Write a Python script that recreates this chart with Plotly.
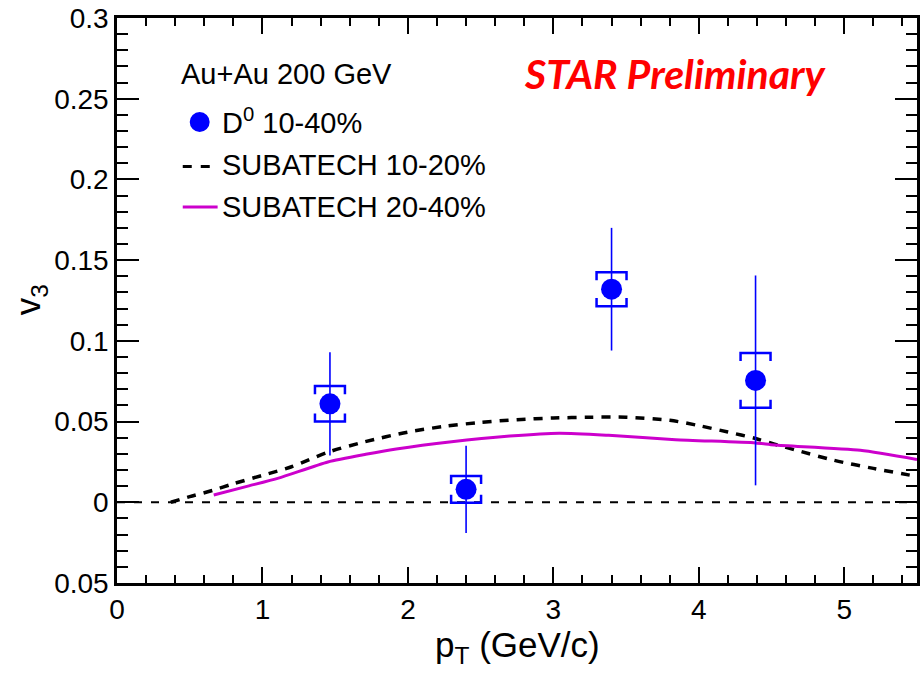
import plotly.graph_objects as go

# D0 v3 measurement, 10-40% centrality
pt = [1.464, 2.40, 3.40, 4.39]
v3 = [0.061, 0.008, 0.132, 0.0755]
stat_err = [0.032, 0.027, 0.038, 0.065]
sys_err = [0.011, 0.0083, 0.0105, 0.017]

# SUBATECH model, 10-20%
sub1020_pt = [0.37, 0.5, 0.66, 0.8, 1.0, 1.2, 1.45, 1.7, 2.0, 2.25, 2.5, 2.75,
              3.0, 3.25, 3.5, 3.8, 4.0, 4.2, 4.39, 4.52, 4.66, 4.93, 5.2, 5.5]
sub1020_v3 = [0.0, 0.0035, 0.0074, 0.0115, 0.0167, 0.022, 0.031, 0.0374, 0.0435,
              0.047, 0.0495, 0.0512, 0.0522, 0.0527, 0.0527, 0.0508, 0.0475, 0.0435,
              0.0395, 0.036, 0.0325, 0.026, 0.021, 0.016]

# SUBATECH model, 20-40%
sub2040_pt = [0.665, 0.9, 1.11, 1.45, 1.71, 1.92, 2.3, 2.7, 3.04, 3.38, 3.84,
              4.39, 4.52, 5.11, 5.5]
sub2040_v3 = [0.0045, 0.010, 0.015, 0.025, 0.0297, 0.033, 0.0375, 0.041, 0.0428,
              0.0415, 0.0388, 0.0368, 0.0355, 0.0322, 0.0265]

y_tickvals = [-0.05, 0, 0.05, 0.1, 0.15, 0.2, 0.25, 0.3]
y_ticktext = ["0.05", "0", "0.05", "0.1", "0.15", "0.2", "0.25", "0.3"]
x_tickvals = [0, 1, 2, 3, 4, 5]

W, H = 921, 677
ML, MR, MT, MB = 117, 1, 18, 94
PW, PH = W - ML - MR, H - MT - MB
FONT = "Liberation Sans, Arial, Helvetica, sans-serif"
BLUE = "#0000ff"
MAGENTA = "#cc00cc"


def px(x):
    return (x - ML) / PW


def py(y):
    return (H - MB - y) / PH


fig = go.Figure()

# zero reference line
fig.add_shape(type="line", xref="paper", yref="y", x0=0, x1=1, y0=0, y1=0,
              line=dict(color="black", width=2, dash="8px,9px"), layer="below")

fig.add_trace(go.Scatter(x=sub1020_pt, y=sub1020_v3, mode="lines",
                         name="SUBATECH 10-20%",
                         line=dict(color="black", width=3.5, dash="9px,8px",
                                   shape="spline", smoothing=0.8),
                         showlegend=False))
fig.add_trace(go.Scatter(x=sub2040_pt, y=sub2040_v3, mode="lines",
                         name="SUBATECH 20-40%",
                         line=dict(color=MAGENTA, width=3, shape="spline",
                                   smoothing=0.6),
                         showlegend=False))

# systematic-uncertainty brackets
bx, by = [], []
hw, tk = 0.103, 0.005
for x, y, s in zip(pt, v3, sys_err):
    top, bot = y + s, y - s
    bx += [x - hw, x - hw, x + hw, x + hw, None, x - hw, x - hw, x + hw, x + hw, None]
    by += [top - tk, top, top, top - tk, None, bot + tk, bot, bot, bot + tk, None]
fig.add_trace(go.Scatter(x=bx, y=by, mode="lines", line=dict(color=BLUE, width=2.5),
                         hoverinfo="skip", showlegend=False))

fig.add_trace(go.Scatter(x=pt, y=v3, mode="markers", name="D0 10-40%",
                         marker=dict(color=BLUE, size=21, symbol="circle"),
                         error_y=dict(type="data", array=stat_err, width=0,
                                      thickness=1.6, color=BLUE),
                         showlegend=False))

axis_common = dict(showline=True, linecolor="black", linewidth=2.5, mirror="ticks",
                   ticks="inside", tickcolor="black", tickwidth=1.5,
                   showgrid=False, zeroline=False,
                   tickfont=dict(family=FONT, size=28, color="black"))

fig.update_xaxes(range=[0, 5.5], tickvals=x_tickvals, ticklen=16,
                 minor=dict(dtick=0.2, ticks="inside", ticklen=8, tickwidth=1.5,
                            tickcolor="black"),
                 **axis_common)
fig.update_yaxes(range=[-0.05, 0.3], tickvals=y_tickvals, ticktext=y_ticktext,
                 ticklen=22,
                 minor=dict(dtick=0.01, ticks="inside", ticklen=11, tickwidth=1.5,
                            tickcolor="black"),
                 **axis_common)


def label(x, y, text, font, xanchor="center", **kw):
    return dict(x=px(x), y=py(y), xref="paper", yref="paper", text=text,
                showarrow=False, xanchor=xanchor, yanchor="middle", font=font, **kw)


title_font = dict(family=FONT, size=35, color="black")
leg_font = dict(family=FONT, size=29, color="black")

ann = [
    # axis titles
    label(519, 647, "p<sub>T</sub> (GeV/c)", title_font),
    label(30, 300, "v<sub>3</sub>", title_font, textangle=-90),
    # STAR label
    label(678, 73, "<b><i>STAR Preliminary</i></b>",
          dict(family="Lato, Open Sans, sans-serif", size=41, color="#ff0000")),
    # legend block
    label(179, 74, "Au+Au 200 GeV", leg_font, xanchor="left"),
    label(220, 121, "D<sup>0</sup> 10-40%", leg_font, xanchor="left"),
    label(220, 165, "SUBATECH 10-20%", leg_font, xanchor="left"),
    label(220, 207, "SUBATECH 20-40%", leg_font, xanchor="left"),
]

shapes = [
    dict(type="circle", xref="paper", yref="paper", x0=px(190), x1=px(210),
         y0=py(132), y1=py(112), fillcolor=BLUE, line=dict(color=BLUE, width=0)),
    dict(type="line", xref="paper", yref="paper", x0=px(183), x1=px(211),
         y0=py(166.5), y1=py(166.5), line=dict(color="black", width=3, dash="9px,9px")),
    dict(type="line", xref="paper", yref="paper", x0=px(183), x1=px(218),
         y0=py(207), y1=py(207), line=dict(color=MAGENTA, width=3)),
]
for s in shapes:
    fig.add_shape(**s)

fig.update_layout(width=W, height=H, margin=dict(l=ML, r=MR, t=MT, b=MB),
                  paper_bgcolor="white", plot_bgcolor="white",
                  annotations=ann, showlegend=False)

fig.write_html("out.html")
